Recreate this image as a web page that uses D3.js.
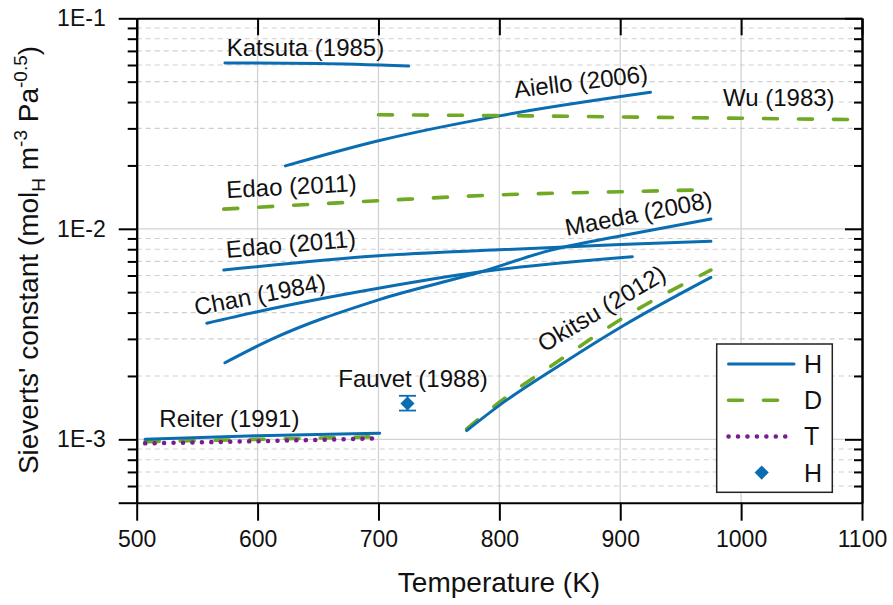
<!DOCTYPE html>
<html>
<head>
<meta charset="utf-8">
<script src="https://cdn.jsdelivr.net/npm/d3@7"></script>
<style>
  body { margin: 0; background: #fff; }
  text { font-family: "Liberation Sans", Arial, sans-serif; fill: #111; }
</style>
</head>
<body>
<svg id="chart" width="893" height="605"></svg>
<script>
// ---- axis ticks ----
const xTicks = [500, 600, 700, 800, 900, 1000, 1100];
const yMajor = [1e-3, 1e-2, 1e-1];
const yMajorLabels = ["1E-3", "1E-2", "1E-1"];
const yMinor = [6e-4, 7e-4, 8e-4, 9e-4,
                2e-3, 3e-3, 4e-3, 5e-3, 6e-3, 7e-3, 8e-3, 9e-3,
                2e-2, 3e-2, 4e-2, 5e-2, 6e-2, 7e-2, 8e-2, 9e-2];

// ---- Sieverts' constant data (temperature in K, constant in mol m^-3 Pa^-0.5) ----
const katsutaT = [573, 650, 725];
const katsutaH = [0.0614, 0.0610, 0.0593];

const aielloT = [623, 700, 800, 925];
const aielloH = [0.0199, 0.0262, 0.0344, 0.0445];

const wuT = [700, 800, 900, 1000, 1100];
const wuD = [0.0348, 0.0345, 0.0340, 0.0335, 0.0330];

const edaoDT = [572, 700, 800, 900, 965];
const edaoD = [0.0124, 0.0136, 0.0145, 0.0150, 0.0153];

const edaoHT = [572, 700, 800, 900, 975];
const edaoH = [0.00637, 0.00745, 0.00795, 0.00842, 0.00872];

const maedaT = [573, 610, 700, 785, 842, 900, 975];
const maedaH = [0.00231, 0.00296, 0.00460, 0.00625, 0.00790, 0.00924, 0.01113];

const chanT = [558, 600, 700, 785, 910];
const chanH = [0.00356, 0.00404, 0.00522, 0.00625, 0.00737];

const okitsuT = [773, 800, 850, 900, 975];
const okitsuH = [0.00110, 0.00145, 0.00225, 0.00340, 0.00588];
const okitsuD = [0.00112, 0.00150, 0.00238, 0.00370, 0.00637];

const reiterT = [507, 600, 701];
const reiterH = [0.00100, 0.00104, 0.00107];
const reiterD = [0.000975, 0.00100, 0.00103];
const reiterTr = [0.000957, 0.00098, 0.00101];

const fauvetT = 724;
const fauvetH = 0.00148;
const fauvetLo = 0.00137;
const fauvetHi = 0.00161;

// ---- series list: [temperatures, values, isotope] ----
const series = [
  [katsutaT, katsutaH, "H"],
  [aielloT, aielloH, "H"],
  [wuT, wuD, "D"],
  [edaoDT, edaoD, "D"],
  [edaoHT, edaoH, "H"],
  [chanT, chanH, "H"],
  [maedaT, maedaH, "H"],
  [okitsuT, okitsuD, "D"],
  [okitsuT, okitsuH, "H"],
  [reiterT, reiterD, "D"],
  [reiterT, reiterH, "H"],
  [reiterT, reiterTr, "T"]
];

// ---- text annotations: label, anchor T, anchor value, rotation ----
const notes = [
  ["Katsuta (1985)", 574.5, 0.0662, 0],
  ["Aiello (2006)", 813, 0.0418, -7],
  ["Wu (1983)", 985, 0.0383, 0],
  ["Edao (2011)", 574.5, 0.0140, -3],
  ["Edao (2011)", 574.5, 0.00727, -5],
  ["Chan (1984)", 549, 0.00387, -11],
  ["Maeda (2008)", 855.7, 0.00924, -11],
  ["Okitsu (2012)", 837, 0.00258, -31],
  ["Fauvet (1988)", 666.8, 0.00178, 0],
  ["Reiter (1991)", 518.7, 0.00115, 0]
];

const legendKeys = ["H", "D", "T", "H"];

// ---- styles ----
const BLUE = "#0b6db1", GREEN = "#70a923", PURPLE = "#7a1c8f";
const styles = {
  H: { stroke: BLUE, width: 3, dash: null },
  D: { stroke: GREEN, width: 3.6, dash: "14 21" },
  T: { stroke: PURPLE, width: 4.5, dash: "0.1 9.35" }
};

const svg = d3.select("#chart");
const x = d3.scaleLinear().domain([500, 1100]).range([136.7, 862]);
const y = d3.scaleLog().domain([5e-4, 0.1]).range([502.7, 18.3]);
const [yBot, yTop] = y.range();
const [xL, xR] = x.range();

// ---- grid ----
const grid = svg.append("g");
grid.selectAll("line.vg").data(xTicks.slice(1, -1)).join("line")
  .attr("x1", d => x(d)).attr("x2", d => x(d))
  .attr("y1", yTop).attr("y2", yBot)
  .attr("stroke", "#d2d2d2").attr("stroke-width", 1.3);
grid.selectAll("line.hm").data(yMinor).join("line")
  .attr("x1", xL).attr("x2", xR)
  .attr("y1", d => y(d)).attr("y2", d => y(d))
  .attr("stroke", "#cfcfcf").attr("stroke-width", 1.1)
  .attr("stroke-dasharray", "5 4");
grid.selectAll("line.hg").data([1e-3, 1e-2]).join("line")
  .attr("x1", xL).attr("x2", xR)
  .attr("y1", d => y(d)).attr("y2", d => y(d))
  .attr("stroke", "#d2d2d2").attr("stroke-width", 1.3);

// ---- curves ----
const line = d3.line()
  .x(d => x(d[0])).y(d => y(d[1]))
  .curve(d3.curveMonotoneX);

svg.append("g").selectAll("path").data(series).join("path")
  .attr("d", s => line(s[0].map((t, i) => [t, s[1][i]])))
  .attr("fill", "none")
  .attr("stroke", s => styles[s[2]].stroke)
  .attr("stroke-width", s => styles[s[2]].width)
  .attr("stroke-linecap", "round")
  .attr("stroke-linejoin", "round")
  .attr("stroke-dasharray", s => styles[s[2]].dash);

// ---- single measurement with error bar ----
const fx = x(fauvetT);
const pt = svg.append("g").attr("stroke", BLUE).attr("stroke-width", 1.8);
pt.append("line").attr("x1", fx).attr("x2", fx).attr("y1", y(fauvetLo)).attr("y2", y(fauvetHi));
pt.append("line").attr("x1", fx - 8.5).attr("x2", fx + 8.5).attr("y1", y(fauvetLo)).attr("y2", y(fauvetLo));
pt.append("line").attr("x1", fx - 8.5).attr("x2", fx + 8.5).attr("y1", y(fauvetHi)).attr("y2", y(fauvetHi));
svg.append("path")
  .attr("d", d3.symbol().type(d3.symbolSquare).size(100)())
  .attr("transform", `translate(${fx},${y(fauvetH)}) rotate(45)`)
  .attr("fill", BLUE);

// ---- annotations ----
svg.append("g").selectAll("text").data(notes).join("text")
  .attr("transform", d => `translate(${x(d[1])},${y(d[2])}) rotate(${d[3]})`)
  .attr("font-size", 24)
  .text(d => d[0]);

// ---- axes ----
function styleAxis(g) {
  g.select(".domain").attr("stroke", "#000").attr("stroke-width", 2);
  g.selectAll(".tick line").attr("stroke", "#000").attr("stroke-width", 2);
  g.selectAll(".tick text").attr("font-size", 23).attr("fill", "#111")
    .attr("font-family", '"Liberation Sans", Arial, sans-serif');
}

svg.append("g").attr("transform", `translate(0,${yBot})`)
  .call(d3.axisBottom(x).tickValues(xTicks).tickSize(18).tickSizeOuter(0).tickPadding(10).tickFormat(d3.format("d")))
  .call(styleAxis);

svg.append("g").attr("transform", `translate(0,${yTop})`)
  .call(d3.axisTop(x).tickValues(xTicks).tickSize(-17).tickSizeOuter(0).tickFormat(""))
  .call(styleAxis);

svg.append("g").attr("transform", `translate(${xL},0)`)
  .call(d3.axisLeft(y).tickValues([5e-4, ...yMajor]).tickSize(18).tickSizeOuter(0).tickPadding(13)
    .tickFormat(d => { const i = yMajor.indexOf(d); return i < 0 ? "" : yMajorLabels[i]; }))
  .call(styleAxis);
svg.append("g").attr("transform", `translate(${xL},0)`)
  .call(d3.axisLeft(y).tickValues(yMinor).tickSize(9).tickSizeOuter(0).tickFormat(""))
  .call(styleAxis);

svg.append("g").attr("transform", `translate(${xR},0)`)
  .call(d3.axisRight(y).tickValues(yMajor).tickSize(-17).tickSizeOuter(0).tickFormat(""))
  .call(styleAxis);
svg.append("g").attr("transform", `translate(${xR},0)`)
  .call(d3.axisRight(y).tickValues(yMinor).tickSize(-8).tickSizeOuter(0).tickFormat(""))
  .call(styleAxis);

// ---- axis titles ----
svg.append("text")
  .attr("x", 499).attr("y", 592)
  .attr("text-anchor", "middle").attr("font-size", 28)
  .text("Temperature (K)");

const yt = svg.append("text")
  .attr("transform", "translate(38,260) rotate(-90)")
  .attr("text-anchor", "middle").attr("font-size", 28);
yt.append("tspan").text("Sieverts' constant (mol");
yt.append("tspan").attr("font-size", 19).attr("dy", 7).text("H");
yt.append("tspan").attr("dy", -7).text(" m");
yt.append("tspan").attr("font-size", 19).attr("dy", -11).text("-3");
yt.append("tspan").attr("dy", 11).text(" Pa");
yt.append("tspan").attr("font-size", 19).attr("dy", -11).text("-0.5");
yt.append("tspan").attr("dy", 11).text(")");

// ---- legend ----
const lg = svg.append("g");
lg.append("rect")
  .attr("x", 716.7).attr("y", 344).attr("width", 115.6).attr("height", 148.3)
  .attr("fill", "#fff").attr("stroke", "#222").attr("stroke-width", 1.5);
const rowY = i => 364 + i * 36.2;
["H", "D", "T"].forEach((k, i) => {
  lg.append("line")
    .attr("x1", 728.5).attr("x2", 794).attr("y1", rowY(i)).attr("y2", rowY(i))
    .attr("stroke", styles[k].stroke).attr("stroke-width", styles[k].width)
    .attr("stroke-linecap", "round").attr("stroke-dasharray", styles[k].dash);
});
lg.append("path")
  .attr("d", d3.symbol().type(d3.symbolSquare).size(100)())
  .attr("transform", `translate(761.7,${rowY(3)}) rotate(45)`)
  .attr("fill", BLUE);
lg.selectAll("text").data(legendKeys).join("text")
  .attr("x", 804).attr("y", (d, i) => rowY(i))
  .attr("dominant-baseline", "central")
  .attr("font-size", 25)
  .text(d => d);
</script>
</body>
</html>
